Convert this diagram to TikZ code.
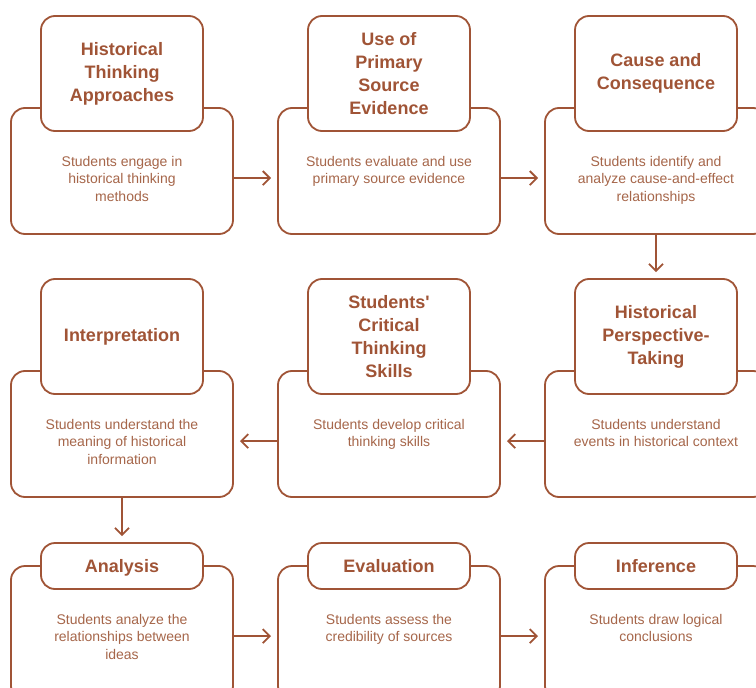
\documentclass[tikz,border=0pt]{standalone}
\usepackage{fontspec}
\setmainfont{Liberation Sans}
\usetikzlibrary{arrows.meta}
\definecolor{brn}{RGB}{160,84,54}
\definecolor{btxt}{RGB}{166,102,74}
\begin{document}
\begin{tikzpicture}[x=1pt,y=-1pt,
  outerbox/.style={draw=brn, line width=1.8pt, rounded corners=14pt, fill=white, minimum width=222pt, minimum height=126pt, inner sep=0pt},
  titlebox/.style={draw=brn, line width=1.8pt, rounded corners=14pt, fill=white, minimum width=162pt, inner sep=0pt, align=center, font=\fontsize{18}{23}\selectfont\bfseries, text=brn},
  bodytext/.style={align=center, font=\fontsize{14}{17.5}\selectfont, text=btxt, anchor=north, inner sep=0pt},
  flow/.style={draw=brn, line width=1.8pt, -{Straight Barb[length=7pt,width=14pt,line width=1.8pt]}, shorten >=6pt}
]
\useasboundingbox (0,0) rectangle (756,688);
\clip (0,0) rectangle (756,688);

% outer boxes
\node[outerbox] (o1) at (122,171) {};
\node[outerbox] (o2) at (389,171) {};
\node[outerbox] (o3) at (656,171) {};
\node[outerbox] (o4) at (122,434) {};
\node[outerbox] (o5) at (389,434) {};
\node[outerbox] (o6) at (656,434) {};
\node[outerbox, minimum height=134pt] (o7) at (122,633) {};
\node[outerbox, minimum height=134pt] (o8) at (389,633) {};
\node[outerbox, minimum height=134pt] (o9) at (656,633) {};

% title boxes
\node[titlebox, minimum height=115pt] (t1) at (122,73.5) {Historical\\Thinking\\Approaches};
\node[titlebox, minimum height=115pt] (t2) at (389,73.5) {Use of\\Primary\\Source\\Evidence};
\node[titlebox, minimum height=115pt] (t3) at (656,73.5) {Cause and\\Consequence};
\node[titlebox, minimum height=115pt] (t4) at (122,336.5) {Interpretation};
\node[titlebox, minimum height=115pt] (t5) at (389,336.5) {Students\textquotesingle\\Critical\\Thinking\\Skills};
\node[titlebox, minimum height=115pt] (t6) at (656,336.5) {Historical\\Perspective-\\Taking};
\node[titlebox, minimum height=46pt, text depth=0pt] (t7) at (122,566) {Analysis};
\node[titlebox, minimum height=46pt, text depth=0pt] (t8) at (389,566) {Evaluation};
\node[titlebox, minimum height=46pt, text depth=0pt] (t9) at (656,566) {Inference};

% body texts
\node[bodytext] (b1) at ([yshift=-49pt]o1.north) {Students engage in\\historical thinking\\methods};
\node[bodytext] (b2) at ([yshift=-49pt]o2.north) {Students evaluate and use\\primary source evidence};
\node[bodytext] (b3) at ([yshift=-49pt]o3.north) {Students identify and\\analyze cause-and-effect\\relationships};
\node[bodytext] (b4) at ([yshift=-49pt]o4.north) {Students understand the\\meaning of historical\\information};
\node[bodytext] (b5) at ([yshift=-49pt]o5.north) {Students develop critical\\thinking skills};
\node[bodytext] (b6) at ([yshift=-49pt]o6.north) {Students understand\\events in historical context};
\node[bodytext] (b7) at ([yshift=-49pt]o7.north) {Students analyze the\\relationships between\\ideas};
\node[bodytext] (b8) at ([yshift=-49pt]o8.north) {Students assess the\\credibility of sources};
\node[bodytext] (b9) at ([yshift=-49pt]o9.north) {Students draw logical\\conclusions};

% connectors
\draw[flow] ([yshift=-71pt]o1.north east) -- ([yshift=-71pt]o2.north west);
\draw[flow] ([yshift=-71pt]o2.north east) -- ([yshift=-71pt]o3.north west);
\draw[flow] (o3.south) -- (t6.north);
\draw[flow] ([yshift=-71pt]o6.north west) -- ([yshift=-71pt]o5.north east);
\draw[flow] ([yshift=-71pt]o5.north west) -- ([yshift=-71pt]o4.north east);
\draw[flow] (o4.south) -- (t7.north);
\draw[flow] ([yshift=-71pt]o7.north east) -- ([yshift=-71pt]o8.north west);
\draw[flow] ([yshift=-71pt]o8.north east) -- ([yshift=-71pt]o9.north west);
\end{tikzpicture}
\end{document}
